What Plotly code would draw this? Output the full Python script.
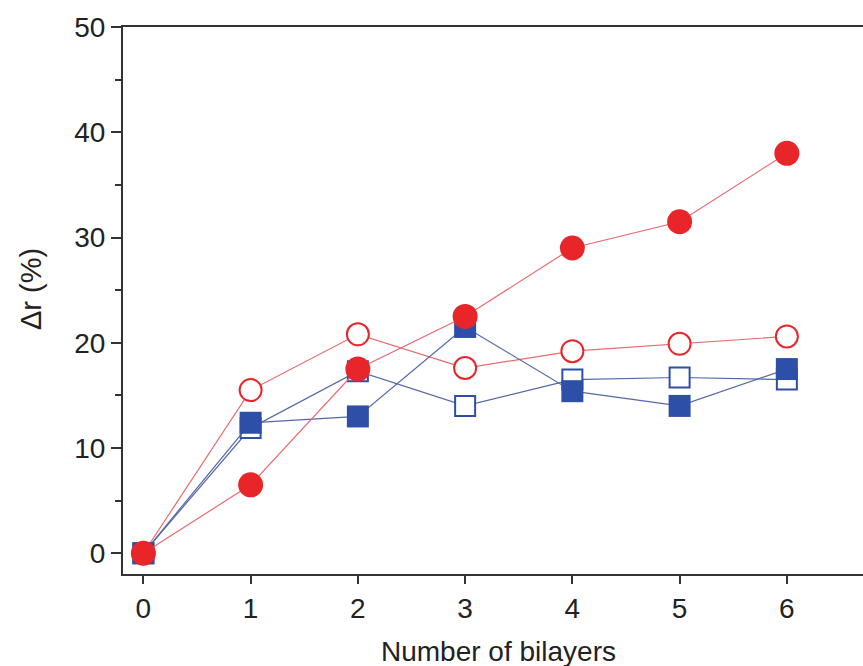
import plotly.graph_objects as go

bilayers = [0, 1, 2, 3, 4, 5, 6]
red_filled = [0, 6.5, 17.5, 22.5, 29.0, 31.5, 38.0]
red_open = [0, 15.5, 20.8, 17.6, 19.2, 19.9, 20.6]
blue_filled = [0, 12.4, 13.0, 21.5, 15.4, 14.0, 17.5]
blue_open = [0, 11.9, 17.3, 14.0, 16.5, 16.7, 16.5]
y_ticks = [0, 10, 20, 30, 40, 50]
y_minor = [5, 15, 25, 35, 45]

RED = "#E8262A"
RED_LINE = "#E86A6E"
BLUE = "#2D4FA8"
BLUE_LINE = "#5468A8"
FONT = "Liberation Sans, Arial, sans-serif"

fig = go.Figure()
fig.add_trace(go.Scatter(x=bilayers, y=red_open, mode="lines+markers",
                         line=dict(color=RED_LINE, width=1.2),
                         marker=dict(symbol="circle", size=22, color="white",
                                     line=dict(color=RED, width=2))))
fig.add_trace(go.Scatter(x=bilayers, y=blue_open, mode="lines+markers",
                         line=dict(color=BLUE_LINE, width=1.2),
                         marker=dict(symbol="square", size=20, color="white",
                                     line=dict(color=BLUE, width=2))))
fig.add_trace(go.Scatter(x=bilayers, y=blue_filled, mode="lines+markers",
                         line=dict(color=BLUE_LINE, width=1.2),
                         marker=dict(symbol="square", size=22, color=BLUE,
                                     line=dict(width=0))))
fig.add_trace(go.Scatter(x=bilayers, y=red_filled, mode="lines+markers",
                         line=dict(color=RED_LINE, width=1.2),
                         marker=dict(symbol="circle", size=25, color=RED,
                                     line=dict(width=0))))

fig.update_layout(
    width=863, height=666,
    margin=dict(l=123, r=0, t=27, b=92),
    paper_bgcolor="white", plot_bgcolor="white",
    showlegend=False,
    font=dict(family=FONT, color="#222"),
    xaxis=dict(range=[-0.19, 6.71], tickmode="array", tickvals=bilayers,
               showgrid=False, zeroline=False, showline=True, linecolor="#333",
               linewidth=2, mirror=True, ticks="outside", ticklen=8, tickwidth=2,
               tickcolor="#333", tickfont=dict(size=28), automargin=False),
    yaxis=dict(range=[-1.97, 50], tickmode="array", tickvals=y_ticks,
               showgrid=False, zeroline=False, showline=True, linecolor="#333",
               linewidth=2, ticks="outside", ticklen=10, tickwidth=2, tickcolor="#333",
               tickfont=dict(size=28), automargin=False,
               minor=dict(tickvals=y_minor, ticks="outside", ticklen=6,
                          tickwidth=2, tickcolor="#333")),
    annotations=[
        dict(text="Number of bilayers", xref="paper", yref="paper",
             x=0.507, y=-0.142, xanchor="center", yanchor="middle",
             showarrow=False, font=dict(size=28, family=FONT, color="#222")),
        dict(text="Δr (%)", xref="paper", yref="paper",
             x=-0.1243, y=0.521, xanchor="center", yanchor="middle", textangle=-90,
             showarrow=False, font=dict(size=29, family=FONT, color="#222")),
    ],
)
fig.write_html(
    "out.html",
    config={"displayModeBar": False},
    post_script="document.body.style.margin='0';document.body.style.overflow='hidden';",
)
